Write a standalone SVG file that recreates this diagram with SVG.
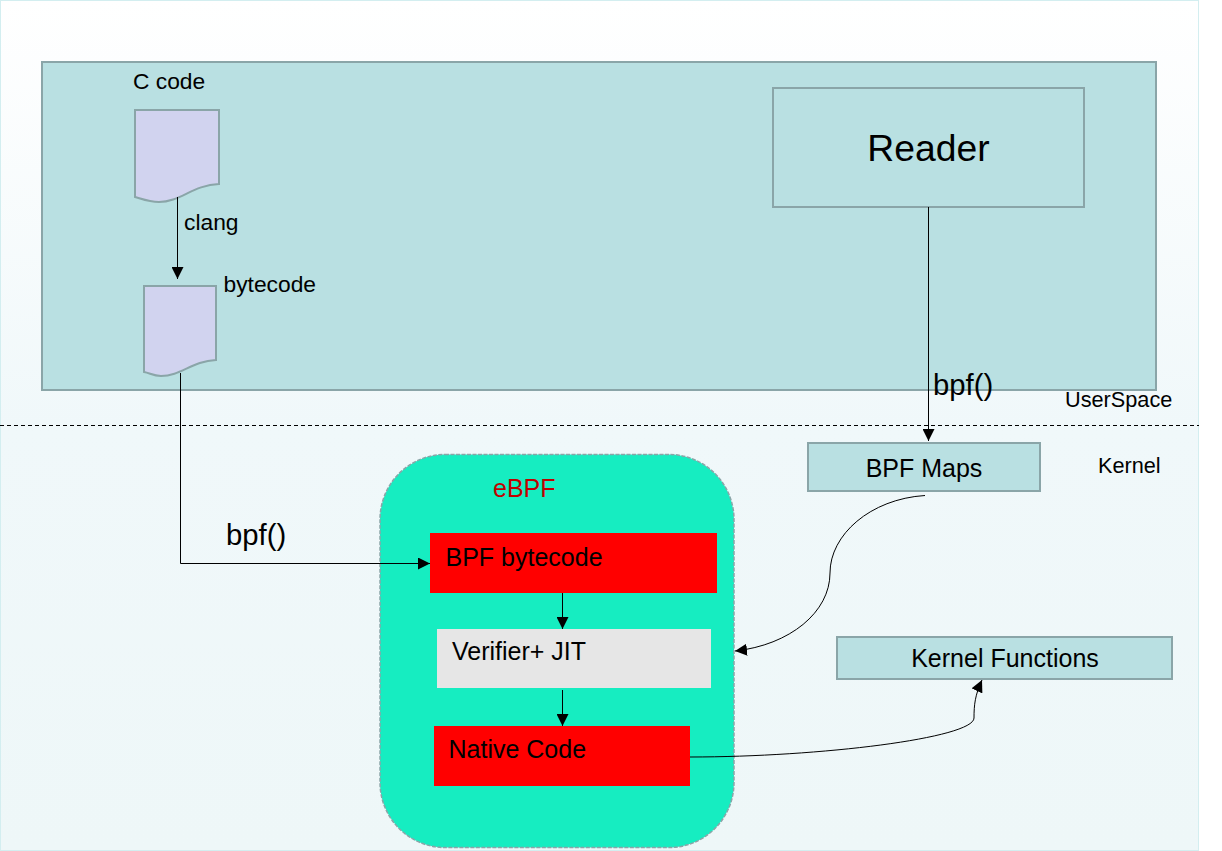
<svg xmlns="http://www.w3.org/2000/svg" width="1222" height="851" viewBox="0 0 1222 851">
<defs>
<linearGradient id="bg" x1="0" y1="0" x2="0" y2="1"><stop offset="0" stop-color="#ffffff"/><stop offset="0.5" stop-color="#f0f8fa"/><stop offset="1" stop-color="#eef7f8"/></linearGradient>
<marker id="arr" markerUnits="userSpaceOnUse" markerWidth="12" markerHeight="12" refX="12" refY="6" orient="auto"><path d="M0 0L12 6L0 12Z" fill="#000"/></marker>
</defs>
<style>
text{font-family:"Liberation Sans",Arial,sans-serif;fill:#000}
.box{fill:#b9e0e2;stroke:#8aa5a8;stroke-width:2}
.doc{fill:#d1d3ef;stroke:#8aa5a8;stroke-width:2}
.c{fill:none;stroke:#000;stroke-width:1}
.a{marker-end:url(#arr)}
.t22{font-size:21.700px}.t23{font-size:22.800px}.t25{font-size:25px}.t29{font-size:29.300px}
</style>
<rect x="0.5" y="0.5" width="1198" height="850" fill="url(#bg)" stroke="#d3eef0" stroke-width="1"/>
<g id="userspace"><rect class="box" x="42" y="62" width="1114" height="328"/></g>
<g id="boundary"><line x1="0" y1="425.500" x2="1199" y2="425.500" stroke="#000" stroke-width="1" stroke-dasharray="4 3"/></g>
<g id="c-code"><path class="doc" d="M135 110H219V184C193 185 180 202 159 202C149 202 142 199 135 197Z"/><text class="t23" x="133" y="89">C code</text></g>
<g id="bytecode"><path class="doc" d="M144 286H216V360C192 361 181 376 161 376C153 376 150 373 144 372Z"/><text class="t23" x="223.500" y="292">bytecode</text></g>
<g id="reader"><rect class="box" x="773" y="88" width="311" height="119"/><text x="928.500" y="161" font-size="37.300" text-anchor="middle">Reader</text></g>
<g id="ebpf"><rect x="380" y="454.500" width="354" height="393" rx="65" ry="65" fill="#16edc1" stroke="#8aa5a8" stroke-width="1.500" stroke-dasharray="4 1.500"/><text class="t25" x="493" y="496.500" style="fill:#c00000">eBPF</text></g>
<g id="bpf-bytecode"><rect x="430" y="533" width="287" height="60" fill="#ff0000"/><text class="t25" x="445.500" y="565.500">BPF bytecode</text></g>
<g id="verifier"><rect x="437" y="629" width="274" height="59" fill="#e6e6e6"/><text class="t25" x="452" y="660">Verifier+ JIT</text></g>
<g id="native"><rect x="434" y="726" width="256" height="60" fill="#ff0000"/><text class="t25" x="448.500" y="758">Native Code</text></g>
<g id="maps"><rect class="box" x="808" y="443" width="232" height="48"/><text class="t25" x="924" y="476.500" text-anchor="middle">BPF Maps</text></g>
<g id="kernel-functions"><rect class="box" x="837" y="637" width="335" height="42"/><text class="t25" x="1005" y="667" text-anchor="middle">Kernel Functions</text></g>
<g id="connectors">
<path class="c a" d="M177.500 197V279"/>
<path class="c a" d="M180.500 373V563.500H430"/>
<path class="c a" d="M562.500 593V629"/>
<path class="c a" d="M562.500 690V726"/>
<path class="c a" d="M928.500 207V441"/>
<path class="c a" d="M925 495.500C870 499 830 535 830 573C830 612 790 645 735 651"/>
<path class="c a" d="M690 757C820 757 974 738 974 718C974 705 975 695 982 680"/>
</g>
<g id="labels">
<text class="t23" x="184" y="229.500">clang</text>
<text class="t29" x="226" y="545">bpf()</text>
<text class="t29" x="933" y="395">bpf()</text>
<text class="t22" x="1065" y="407">UserSpace</text>
<text class="t22" x="1098" y="473">Kernel</text>
</g>
</svg>
